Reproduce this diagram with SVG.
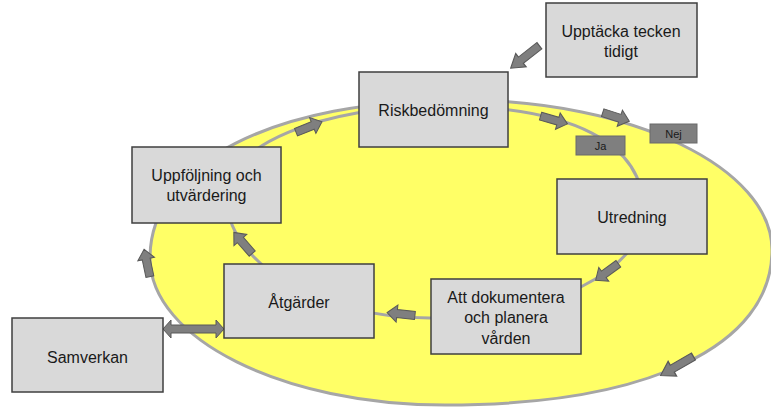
<svg xmlns="http://www.w3.org/2000/svg" xmlns:xlink="http://www.w3.org/1999/xlink" width="771" height="409" viewBox="0 0 771 409">
<style>
.box{fill:#d9d9d9;stroke:#3f3f3f;stroke-width:1.5}
.t{font-family:"Liberation Sans",Arial,sans-serif;font-size:16px;fill:#1a1a1a;text-anchor:middle}
.lbl{fill:#7f7f7f;stroke:#6a6a6a;stroke-width:1}
.lt{font-family:"Liberation Sans",Arial,sans-serif;font-size:11px;fill:#1a1a1a;text-anchor:middle}
.arr{fill:#7f7f7f;stroke:#595959;stroke-width:1}
.track{fill:none;stroke:#a6a6a6;stroke-width:3}
</style>
<defs>
<path id="arr" d="M-14,-4 L4,-4 L4,-8.5 L14,0 L4,8.5 L4,4 L-14,4 Z"/>
</defs>
<rect width="771" height="409" fill="#ffffff"/>
<g id="cycle">
<path id="outer" d="M150,258 C150,163 274,100 461,100 C632,100 772,168 772,250 C772,346 648,405 445,405 C283,405 150,339 150,258 Z" fill="#ffff66" stroke="#a6a6a6" stroke-width="3"/>
<path id="inner" class="track" d="M440,106 C573,106 644,143 644,212 C644,270 548,318 430,318 C318,318 226,263 226,195 C226,146 322,106 440,106 Z"/>
</g>
<g id="connectors">
<use xlink:href="#arr" class="arr" transform="translate(525,57) rotate(142) scale(1.3,1)"/>
<use xlink:href="#arr" class="arr" transform="translate(309,127) rotate(-22)"/>
<use xlink:href="#arr" class="arr" transform="translate(554,120) rotate(16)"/>
<use xlink:href="#arr" class="arr" transform="translate(616,117) rotate(18)"/>
<use xlink:href="#arr" class="arr" transform="translate(607,272) rotate(144)"/>
<use xlink:href="#arr" class="arr" transform="translate(401,314) rotate(186)"/>
<use xlink:href="#arr" class="arr" transform="translate(243,243) rotate(-131)"/>
<use xlink:href="#arr" class="arr" transform="translate(147,263) rotate(-102)"/>
<use xlink:href="#arr" class="arr" transform="translate(677,366) rotate(150) scale(1.35,1)"/>
<path class="arr" d="M163,329 L171,320 L171,325 L216,325 L216,320 L224,329 L216,338 L216,333 L171,333 L171,338 Z"/>
</g>
<g id="upptacka">
<rect class="box" x="546" y="3" width="151" height="74"/>
<text class="t" x="621" y="36.5">Upptäcka tecken</text>
<text class="t" x="621" y="56.5">tidigt</text>
</g>
<g id="riskbedomning">
<rect class="box" x="359" y="72" width="149" height="75"/>
<text class="t" x="433.5" y="115.5">Riskbedömning</text>
</g>
<g id="uppfoljning">
<rect class="box" x="132" y="147" width="149" height="76"/>
<text class="t" x="206.5" y="180.5">Uppföljning och</text>
<text class="t" x="206.5" y="200.5">utvärdering</text>
</g>
<g id="utredning">
<rect class="box" x="557" y="179" width="150" height="75"/>
<text class="t" x="632" y="222.5">Utredning</text>
</g>
<g id="dokumentera">
<rect class="box" x="431" y="279" width="150" height="75"/>
<text class="t" x="506" y="302.5">Att dokumentera</text>
<text class="t" x="506" y="323">och planera</text>
<text class="t" x="506" y="343.5">vården</text>
</g>
<g id="atgarder">
<rect class="box" x="224" y="264" width="150" height="74"/>
<text class="t" x="299" y="307.5">Åtgärder</text>
</g>
<g id="samverkan">
<rect class="box" x="12" y="318" width="151" height="74"/>
<text class="t" x="87.5" y="362.5">Samverkan</text>
</g>
<g id="ja">
<rect class="lbl" x="576" y="136" width="49" height="19"/>
<text class="lt" x="600.5" y="150">Ja</text>
</g>
<g id="nej">
<rect class="lbl" x="650" y="124" width="47" height="19"/>
<text class="lt" x="673.5" y="138">Nej</text>
</g>
</svg>
